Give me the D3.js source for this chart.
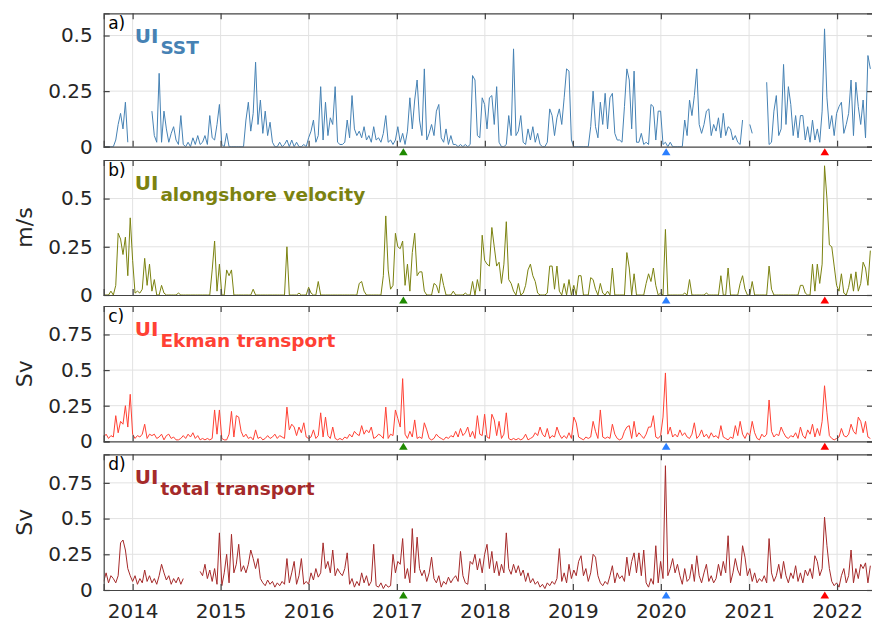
<!DOCTYPE html>
<html lang="en">
<head>
<meta charset="UTF-8">
<script src="https://d3js.org/d3.v7.min.js"></script>
<title>Upwelling indices</title>
<style>
  body { margin: 0; background: #fff; }
  text { font-family: "DejaVu Sans", sans-serif; }
</style>
</head>
<body>
<svg id="my_dataviz" width="872" height="623"></svg>
<script>

// one value every 10 days, first one on 2013-09-03
var startDate = new Date(2013, 8, 3);
var stepDays = 10;
var endDate = new Date(2022, 4, 30);

var yearTicks = [2014, 2015, 2016, 2017, 2018, 2019, 2020, 2021, 2022];

// a) UI SST
var sstValues = [
  0,0,0,0,0,0.03,0.1,0.15,0.08,0.2,
  0.02,null,null,null,null,null,null,null,null,null,
  0.16,0.05,0.02,0.33,0.02,0.16,0.08,0.02,0.06,0.09,
  0.03,0.01,0.14,0.01,0,0.02,0,0.04,0.01,0.05,
  0.01,0.02,0.05,0.01,0.14,0.04,0.03,0.1,0.19,0.01,
  0,0.06,0,0,0,0,0,0,0,0.12,
  0.2,0.07,0.15,0.38,0.1,0.21,0.06,0.16,0.05,0.11,
  0.02,0,0,0.02,0,0.01,0.03,0,0.03,0,
  0.02,0,0,0.01,0,0.04,0.07,0.12,0.02,0.05,
  0.27,0.03,0.2,0.05,0.13,0.1,0.27,0.02,0.01,0.01,
  0.02,0.12,0.04,0.23,0.08,0.05,0.07,0.04,0.09,0.03,
  0.05,0.02,0.09,0.03,0.04,0.02,0.06,0.14,0.02,0.03,
  0.01,0.03,0.09,0.02,0.06,0.01,0.07,0.22,0.08,0.21,
  0.3,0.12,0.05,0.35,0.03,0.06,0.1,0.05,0.16,0.19,
  0.04,0.02,0.08,0.01,0.05,0.01,0.01,0,0.01,0,
  0.01,0,0.01,0.32,0.3,0.05,0.04,0.22,0.19,0.08,
  0.22,0.23,0.1,0.27,0.02,0,0,0.01,0.14,0.05,
  0.44,0.05,0.07,0.14,0.02,0.01,0.08,0.03,0.09,0.02,
  0.06,0.01,0,0,0.02,0.17,0.14,0.05,0.13,0.17,
  0.1,0.22,0.35,0.34,0.03,0,0,0,0,0,
  0,0,0.09,0.25,0.09,0.04,0.2,0.1,0.24,0.08,
  0.22,0.24,0.06,0.03,0.03,0.02,0.18,0.35,0.3,0.08,
  0.34,0.02,0.02,0.06,0.01,0.02,0.01,0.19,0.18,0.03,
  0.16,0.16,0.01,0.02,0,0.02,0,0,0,0,
  0,0.12,0.05,0.21,0.14,0.23,0.35,0.1,0.06,0.1,
  0.16,0.17,0.05,0.1,0.07,0.13,0.04,0.15,0.05,0.09,
  0.08,0.03,0.05,0.02,0.01,0.12,null,null,0.1,0.06,
  null,null,null,null,null,0.29,0.01,0.02,0.16,0.23,
  0.05,0.08,0.37,0.1,0.27,0.19,0.05,0.14,0.04,0.14,
  0.14,0.03,0.09,0.02,0.12,0.03,0.08,0.02,0.16,0.53,
  0.22,0.08,0.14,0.05,0.15,0.18,0.2,0.06,0.1,0.15,
  0.3,0.05,0.29,0.18,0.1,0.21,0.04,0.41,0.35
];

// b) UI alongshore velocity (m/s)
var velocityValues = [
  0,0,0,0.02,0,0.05,0.32,0.29,0.21,0.3,
  0.1,0.4,0.18,0.01,0.02,0.01,0.03,0.19,0.05,0.16,
  0.02,0.08,0,0,0.05,0.01,0,0,0,0,
  0,0.01,0,0,0,0,0,0,0,0,
  0,0,0,0,0,0.13,0.28,0.02,0.16,0,
  0,0.13,0.1,0.13,0,0,0,0,0,0,
  0,0,0.03,0,0,0,0,0,0,0,
  0,0,0,0,0,0,0.25,0,0,0,
  0,0.01,0,0,0,0.04,0.01,0,0,0.07,
  0,0,0,0,0,0,0,0,0,0,
  0,0,0,0,0,0,0.06,0.07,0.02,0,
  0,0,0,0,0,0,0.1,0.41,0.13,0.03,
  0.05,0.32,0.25,0.24,0.28,0.05,0.16,0.02,0.22,0.32,
  0.1,0.12,0.12,0.02,0,0,0,0.06,0.05,0.01,
  0.11,0.05,0,0,0,0.02,0,0,0,0,
  0.01,0,0,0.07,0,0.08,0.02,0.31,0.18,0.16,
  0.15,0.35,0.25,0.15,0.17,0.06,0.16,0.38,0.08,0.06,
  0.02,0,0.06,0,0.01,0.05,0.13,0.16,0.1,0.07,
  0.01,0,0,0,0.01,0.15,0.15,0.03,0.15,0.02,
  0,0.06,0,0.08,0,0.05,0,0.1,0.1,0,
  0,0,0.09,0.08,0.03,0,0.06,0.01,0,0.02,
  0,0.14,0,0,0,0,0,0.22,0.14,0,
  0.11,0,0,0,0,0.06,0.11,0.07,0.14,0.05,
  0,0.01,0,0.34,0,0,0,0,0,0,
  0,0.01,0,0.08,0,0,0,0,0,0,
  0.01,0,0,0,0,0,0.1,0,0,0.14,
  0,0,0,0,0.06,0.1,0.03,0,0,0.07,
  0,0,0,0,0,0,0.15,0.03,0,0,
  0,0,0,0,0,0,0,0,0,0.05,
  0.05,0.01,0,0,0.16,0.02,0.16,0.06,0.16,0.67,
  0.5,0.26,0.25,0.15,0.05,0.02,0.11,0.01,0,0.04,
  0.11,0.02,0.12,0.02,0.06,0.17,0.14,0.05,0.23
];

// c) UI Ekman transport (Sv)
var ekmanValues = [
  0.03,0.05,0.02,0.04,0.03,0.18,0.06,0.14,0.12,0.25,
  0.1,0.33,0.05,0.02,0.04,0.03,0.05,0.12,0.02,0.05,
  0.04,0.05,0.02,0.03,0.05,0.01,0.04,0.05,0.02,0.03,
  0.01,0.01,0.02,0.04,0.02,0.05,0.03,0.06,0.02,0.04,
  0.01,0.02,0.01,0.02,0.01,0.02,0.22,0.05,0.22,0.02,
  0.01,0.01,0.05,0.21,0.03,0.18,0.17,0.07,0.03,0.05,
  0.02,0.03,0.01,0.08,0.02,0.03,0.01,0.02,0.04,0.02,
  0.03,0.05,0.02,0.04,0.03,0.02,0.24,0.08,0.12,0.1,
  0.04,0.1,0.06,0.13,0.03,0.02,0.03,0.08,0.02,0.04,
  0.2,0.03,0.17,0.04,0.02,0.1,0.02,0.01,0.02,0.01,
  0.03,0.02,0.05,0.03,0.07,0.05,0.04,0.11,0.05,0.08,
  0.06,0.1,0.02,0.03,0.05,0.04,0.02,0.24,0.02,0.05,
  0.04,0.22,0.16,0.1,0.44,0.05,0.02,0.07,0.03,0.15,
  0.02,0.03,0.02,0.13,0.08,0.02,0.01,0.02,0.05,0.03,
  0.02,0.01,0.03,0.02,0.04,0.03,0.07,0.03,0.09,0.04,
  0.06,0.1,0.03,0.07,0.02,0.18,0.05,0.04,0.19,0.03,
  0.02,0.19,0.15,0.04,0.14,0.02,0.05,0.2,0.02,0.01,
  0.02,0.01,0.02,0.01,0.02,0.05,0.01,0.02,0.03,0.06,
  0.04,0.1,0.05,0.03,0.09,0.02,0.04,0.03,0.1,0.05,
  0.02,0.04,0.02,0.06,0.02,0.17,0.13,0.03,0.02,0.01,
  0.03,0.02,0.03,0.14,0.07,0.02,0.22,0.03,0.02,0.03,
  0.02,0.12,0.05,0.02,0.01,0.02,0.07,0.1,0.11,0.02,
  0.14,0.03,0.06,0.04,0.02,0.05,0.1,0.1,0.18,0.03,
  0.02,0.04,0.17,0.48,0.05,0.1,0.03,0.05,0.03,0.08,
  0.04,0.06,0.03,0.02,0.05,0.13,0.02,0.04,0.08,0.03,
  0.05,0.02,0.06,0.03,0.04,0.02,0.11,0.03,0.02,0.01,
  0.03,0.02,0.11,0.04,0.14,0.05,0.02,0.06,0.04,0.14,
  0.06,0.02,0.01,0.05,0.03,0.05,0.29,0.07,0.03,0.05,
  0.04,0.1,0.06,0.03,0.02,0.04,0.03,0.06,0.02,0.1,
  0.04,0.02,0.08,0.05,0.12,0.03,0.09,0.04,0.14,0.39,
  0.2,0.04,0.02,0.01,0.02,0.03,0.09,0.04,0.03,0.05,
  0.12,0.07,0.05,0.17,0.14,0.06,0.14,0.03,0.02
];

// d) UI total transport (Sv)
var totalValues = [
  0.06,0.12,0.05,0.1,0.08,0.05,0.1,0.33,0.35,0.28,
  0.15,0.1,0.06,0.1,0.04,0.08,0.05,0.14,0.06,0.1,
  0.05,0.08,0.04,0.1,0.18,0.12,0.07,0.1,0.04,0.08,
  0.05,0.09,0.04,0.08,null,null,null,null,null,null,
  0.13,0.1,0.18,0.08,0.14,0.06,0.15,0.04,0.4,0.03,
  0.12,0.25,0.05,0.39,0.12,0.18,0.32,0.13,0.17,0.12,
  0.18,0.28,0.22,0.15,0.22,0.08,0.05,0.03,0.07,0.04,
  0.06,0.02,0.05,0.03,0.06,0.04,0.22,0.05,0.12,0.2,
  0.04,0.1,0.22,0.04,0.06,0.04,0.12,0.07,0.15,0.09,
  0.12,0.33,0.15,0.2,0.12,0.28,0.1,0.15,0.12,0.1,
  0.15,0.26,0.04,0.08,0.02,0.06,0.03,0.12,0.05,0.1,
  0.03,0.06,0.32,0.03,0.02,0.05,0.01,0.04,0.02,0.03,
  0.25,0.12,0.2,0.18,0.36,0.08,0.15,0.05,0.43,0.12,
  0.37,0.15,0.1,0.14,0.06,0.12,0.23,0.08,0.05,0.1,
  0.02,0.06,0.04,0.09,0.05,0.08,0.1,0.06,0.27,0.1,
  0.05,0.04,0.2,0.18,0.25,0.14,0.22,0.12,0.25,0.32,
  0.15,0.27,0.12,0.2,0.1,0.18,0.12,0.4,0.15,0.11,
  0.18,0.12,0.17,0.1,0.14,0.06,0.12,0.05,0.08,0.04,
  0.06,0.02,0.04,0.01,0.05,0.03,0.06,0.04,0.08,0.29,
  0.06,0.12,0.05,0.18,0.08,0.14,0.1,0.2,0.24,0.1,
  0.15,0.06,0.12,0.25,0.23,0.1,0.05,0.03,0.06,0.04,
  0.1,0.17,0.05,0.12,0.08,0.1,0.06,0.23,0.1,0.2,
  0.26,0.12,0.26,0.1,0.28,0.05,0.02,0.08,0.04,0.31,
  0.05,0.2,0.08,0.87,0.1,0.15,0.22,0.12,0.18,0.1,
  0.04,0.15,0.06,0.08,0.18,0.06,0.24,0.1,0.05,0.12,
  0.18,0.06,0.1,0.05,0.08,0.18,0.1,0.2,0.12,0.38,
  0.05,0.12,0.22,0.14,0.1,0.31,0.23,0.1,0.15,0.06,
  0.12,0.05,0.08,0.06,0.1,0.05,0.36,0.12,0.06,0.1,
  0.18,0.08,0.2,0.1,0.05,0.12,0.08,0.17,0.06,0.12,
  0.05,0.14,0.1,0.15,0.08,0.24,0.2,0.1,0.15,0.51,
  0.31,0.15,0.06,0.03,0.05,0.02,0.1,0.15,0.05,0.1,
  0.28,0.05,0.15,0.08,0.18,0.15,0.19,0.05,0.17
];

// marked events (triangles under each panel)
var eventDates = ["2017-01-28", "2020-01-23", "2021-11-11"];

var svg = d3.select("svg");
var left = 103.7, right = 873;

var x = d3.scaleTime().domain([startDate, endDate]).range([left, right]);
var parseDate = d3.timeParse("%Y-%m-%d");
var yearDates = yearTicks.map(function(y) { return new Date(y, 0, 1); });

var panels = [
  { tag: "a)", sub: "SST", color: "#4682b4", values: sstValues, ymax: 0.6, ticks: [0, 0.25, 0.5], unit: "", top: 13.3, bottom: 146.7 },
  { tag: "b)", sub: "alongshore velocity", color: "#7b8210", values: velocityValues, ymax: 0.7, ticks: [0, 0.25, 0.5], unit: "m/s", top: 160, bottom: 295 },
  { tag: "c)", sub: "Ekman transport", color: "#ff4134", values: ekmanValues, ymax: 0.95, ticks: [0, 0.25, 0.5, 0.75], unit: "Sv", top: 306, bottom: 441.3 },
  { tag: "d)", sub: "total transport", color: "#a52a2a", values: totalValues, ymax: 0.95, ticks: [0, 0.25, 0.5, 0.75], unit: "Sv", top: 454.3, bottom: 590 }
];
var eventColors = ["#1f8a00", "#2b7fff", "#ff0000"];

panels.forEach(function(p, k) {
  var y = d3.scaleLinear().domain([0, p.ymax]).range([p.bottom, p.top]);
  var g = svg.append("g");

  // grid
  g.selectAll(".vg").data(yearDates).enter().append("line")
    .attr("x1", d => x(d)).attr("x2", d => x(d))
    .attr("y1", p.top).attr("y2", p.bottom)
    .attr("stroke", "#e2e2e2").attr("stroke-width", 1);
  g.selectAll(".hg").data(p.ticks.slice(1)).enter().append("line")
    .attr("x1", left).attr("x2", right)
    .attr("y1", d => y(d)).attr("y2", d => y(d))
    .attr("stroke", "#e2e2e2").attr("stroke-width", 1);

  // data
  var clipId = "clip" + k;
  svg.append("clipPath").attr("id", clipId).append("rect")
    .attr("x", left).attr("y", p.top).attr("width", right - left).attr("height", p.bottom - p.top);
  var pts = p.values.map(function(v, i) {
    return { date: d3.timeDay.offset(startDate, i * stepDays), v: v };
  });
  var line = d3.line()
    .defined(d => d.v !== null)
    .x(d => x(d.date))
    .y(d => y(d.v));
  g.append("path")
    .datum(pts)
    .attr("clip-path", "url(#" + clipId + ")")
    .attr("fill", "none")
    .attr("stroke", p.color)
    .attr("stroke-width", 1)
    .attr("stroke-linejoin", "round")
    .attr("d", line);

  // axes (ticks inside, box all round)
  var axisColor = "#444";
  var yl = g.append("g").attr("transform", "translate(" + left + ",0)")
    .call(d3.axisLeft(y).tickValues(p.ticks).tickSize(-6).tickPadding(11).tickFormat(d3.format("~g")));
  var yr = g.append("g").attr("transform", "translate(" + right + ",0)")
    .call(d3.axisRight(y).tickValues(p.ticks).tickSize(-6).tickFormat(""));
  var xb = g.append("g").attr("transform", "translate(0," + p.bottom + ")")
    .call(d3.axisBottom(x).tickValues(yearDates).tickSize(-6).tickPadding(14)
      .tickFormat(k === 3 ? d3.timeFormat("%Y") : ""));
  var xt = g.append("g").attr("transform", "translate(0," + p.top + ")")
    .call(d3.axisTop(x).tickValues(yearDates).tickSize(-6).tickFormat(""));
  [yl, yr, xb, xt].forEach(function(a) {
    a.select(".domain").attr("stroke", axisColor).attr("stroke-width", 1.2);
    a.selectAll(".tick line").attr("stroke", axisColor).attr("stroke-width", 1.2);
    a.selectAll(".tick text").attr("fill", "#262626").style("font-size", "20px")
      .style("font-family", "'DejaVu Sans', sans-serif");
  });

  // panel letter and title
  g.append("text").attr("x", left + 4.5).attr("y", p.top + 16)
    .attr("fill", "#000").style("font-size", "17px").text(p.tag);
  var t = g.append("text").attr("x", left + 31).attr("y", p.top + 30)
    .attr("fill", p.color).style("font-weight", "bold");
  t.append("tspan").style("font-size", "20px").text("UI");
  t.append("tspan").attr("dx", 2).attr("dy", 11).style("font-size", "18.5px").text(p.sub);

  // unit label
  if (p.unit) {
    g.append("text")
      .attr("transform", "translate(32," + ((p.top + p.bottom) / 2) + ") rotate(-90)")
      .attr("text-anchor", "middle")
      .attr("fill", "#262626").style("font-size", "22px").text(p.unit);
  }

  // event markers
  g.selectAll(".ev").data(eventDates).enter().append("path")
    .attr("d", function(d) {
      var cx = x(parseDate(d)), b = p.bottom;
      return "M" + (cx - 4.3) + "," + (b + 8.5) + "L" + (cx + 4.3) + "," + (b + 8.5) + "L" + cx + "," + (b + 1.5) + "Z";
    })
    .attr("fill", (d, i) => eventColors[i]);
});

</script>
</body>
</html>
